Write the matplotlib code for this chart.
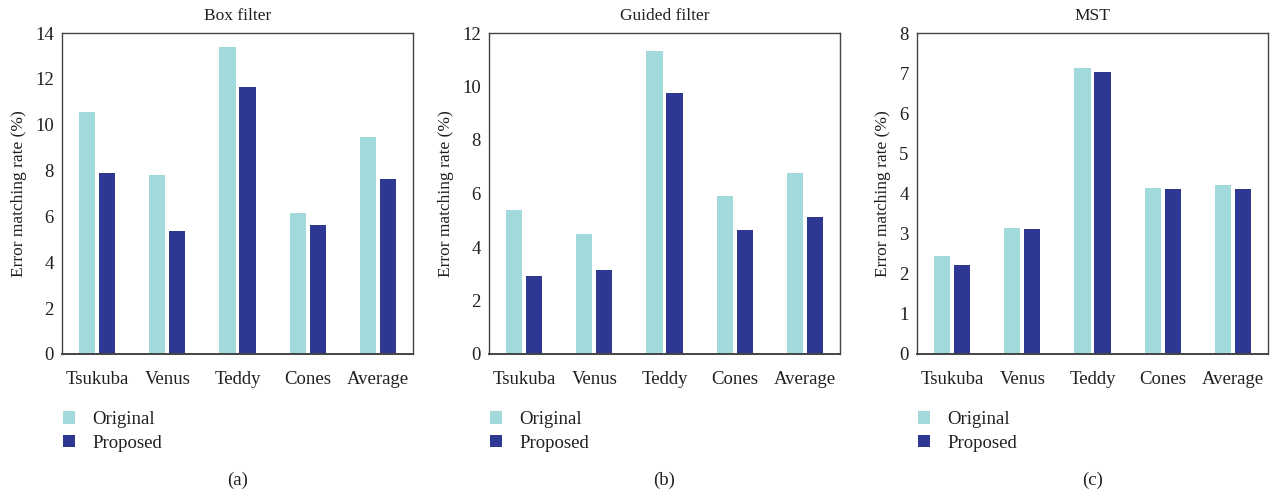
import matplotlib
matplotlib.use("Agg")
import matplotlib.pyplot as plt
import numpy as np

categories = ["Tsukuba", "Venus", "Teddy", "Cones", "Average"]
series_names = ["Original", "Proposed"]
titles = ["Box filter", "Guided filter", "MST"]
captions = ["(a)", "(b)", "(c)"]

box_original = [10.55, 7.82, 13.41, 6.16, 9.48]
box_proposed = [7.90, 5.37, 11.66, 5.63, 7.64]
guided_original = [5.39, 4.49, 11.34, 5.91, 6.77]
guided_proposed = [2.92, 3.14, 9.77, 4.64, 5.13]
mst_original = [2.44, 3.14, 7.13, 4.14, 4.22]
mst_proposed = [2.22, 3.12, 7.04, 4.12, 4.12]

ylims = [14, 12, 8]
ysteps = [2, 2, 1]

plt.rcParams['font.family'] = ['Liberation Serif', 'DejaVu Serif']

c_orig = "#a2dadb"
c_prop = "#2e3892"
text_c = "#231f20"

fig = plt.figure(figsize=(12.77, 4.97), dpi=100)
lefts = [62, 489, 917]
data = [(box_original, box_proposed), (guided_original, guided_proposed), (mst_original, mst_proposed)]
W, H = 1277, 497
for i in range(3):
    ax = fig.add_axes([lefts[i] / W, 1 - 354 / H, 351 / W, 321 / H])
    x = np.arange(len(categories))
    orig, prop = data[i]
    b1 = ax.bar(x - 0.143, orig, width=0.23, color=c_orig, label=series_names[0])
    b2 = ax.bar(x + 0.143, prop, width=0.23, color=c_prop, label=series_names[1])
    ax.set_xlim(-0.5, 4.5)
    ax.set_ylim(0, ylims[i])
    ax.set_yticks(np.arange(0, ylims[i] + 0.01, ysteps[i]))
    ax.set_xticks(x)
    ax.set_xticklabels(categories)
    ax.tick_params(axis='both', length=0, labelsize=13.5, colors=text_c)
    ax.tick_params(axis='x', pad=12)
    ax.tick_params(axis='y', pad=6)
    for s in ax.spines.values():
        s.set_color("#444444")
        s.set_linewidth(1.0)
    ax.spines['bottom'].set_linewidth(1.4)
    ax.set_ylabel("Error matching rate (%)", fontsize=12.5, color=text_c, labelpad=6)
    ax.set_title(titles[i], fontsize=12.5, color=text_c, pad=9)
    ax.legend(handles=[b1, b2], loc='upper left', bbox_to_anchor=(-0.045, -0.125),
              frameon=False, fontsize=13.5, handlelength=0.65, handleheight=0.65,
              handletextpad=0.9, labelspacing=0.35, labelcolor=text_c)
    ax.text(0.5, -0.395, captions[i], transform=ax.transAxes, ha='center', va='center',
            fontsize=13.5, color=text_c)

fig.savefig("out.png", dpi=100, facecolor="white")
